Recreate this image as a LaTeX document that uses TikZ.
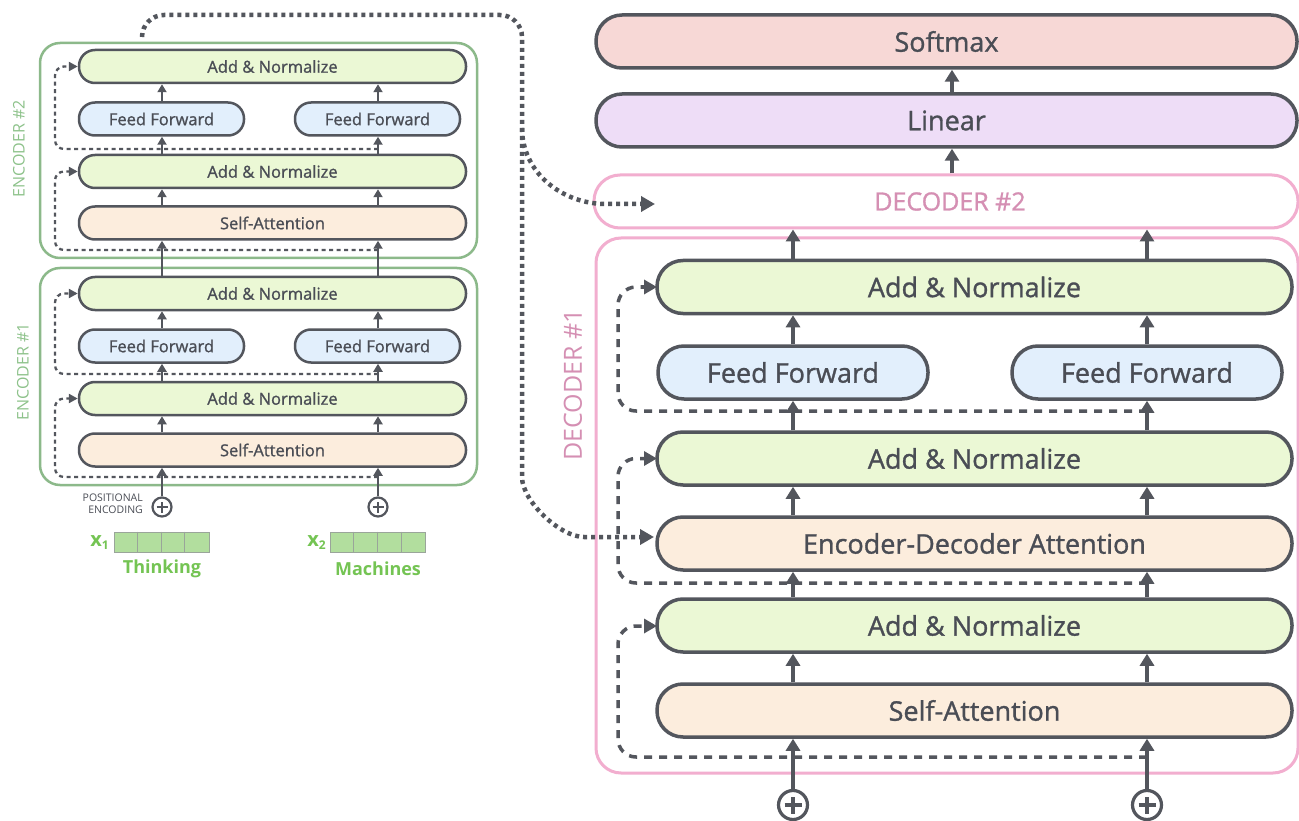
\documentclass[tikz,border=0pt]{standalone}
\usepackage{fontspec}
\setmainfont{Open Sans}
\newfontfamily\sbf{Open Sans}[FakeBold=1.1]
\usetikzlibrary{arrows.meta,calc}
\definecolor{dk}{HTML}{53565D}
\definecolor{txt}{HTML}{4A4D55}
\definecolor{anfill}{HTML}{EBF8D5}
\definecolor{fffill}{HTML}{E2EFFC}
\definecolor{safill}{HTML}{FCEDDD}
\definecolor{smfill}{HTML}{F7D8D6}
\definecolor{linfill}{HTML}{EEDDF7}
\definecolor{encgreen}{HTML}{8CB98A}
\definecolor{enclab}{HTML}{8DC28A}
\definecolor{decpink}{HTML}{F2AECF}
\definecolor{declab}{HTML}{D58FB3}
\definecolor{embfill}{HTML}{B2DE9E}
\definecolor{embline}{HTML}{9AA59A}
\definecolor{wordgreen}{HTML}{74C453}
\begin{document}
\begin{tikzpicture}[x=1pt,y=-1pt,
  ebox/.style={draw=dk, line width=2.5pt, rounded corners=16pt, minimum height=33pt, inner sep=0pt, text=txt, font=\sbf\fontsize{16.5}{18}\selectfont},
  dbox/.style={draw=dk, line width=3.5pt, rounded corners=26pt, minimum height=53pt, inner sep=0pt, text=txt, font=\sbf\fontsize{27}{30}\selectfont},
  encframe/.style={draw=encgreen, line width=2.5pt, rounded corners=20pt, inner sep=0pt},
  decframe/.style={draw=decpink, line width=3pt, rounded corners=25pt, inner sep=0pt},
  earrow/.style={draw=dk, line width=2pt, -{Triangle[length=8pt,width=9pt]}},
  darrow/.style={draw=dk, line width=3.5pt, -{Triangle[length=12pt,width=14pt]}},
  eres/.style={draw=dk, line width=2.3pt, dash pattern=on 4pt off 3.5pt, rounded corners=9pt, -{Triangle[length=9pt,width=9pt]}},
  dres/.style={draw=dk, line width=3.5pt, dash pattern=on 8pt off 7pt, rounded corners=18pt, -{Triangle[length=13pt,width=14pt]}},
  dotline/.style={draw=dk, line width=4.5pt, dash pattern=on 4pt off 4pt, -{Triangle[length=14pt,width=15pt]}},
  eplus/.style={circle, draw=dk, line width=2.2pt, minimum size=19pt, inner sep=0pt, fill=white,
    path picture={\draw[dk, line width=2.2pt] ([xshift=-5.5pt]path picture bounding box.center) -- ([xshift=5.5pt]path picture bounding box.center) ([yshift=-5.5pt]path picture bounding box.center) -- ([yshift=5.5pt]path picture bounding box.center);}},
  dplus/.style={circle, draw=dk, line width=3.2pt, minimum size=29pt, inner sep=0pt, fill=white,
    path picture={\draw[dk, line width=3.2pt] ([xshift=-8.5pt]path picture bounding box.center) -- ([xshift=8.5pt]path picture bounding box.center) ([yshift=-8.5pt]path picture bounding box.center) -- ([yshift=8.5pt]path picture bounding box.center);}},
  emb/.style={draw=embline, fill=embfill, line width=1pt, minimum width=95pt, minimum height=20pt, inner sep=0pt},
  word/.style={text=wordgreen, font=\fontsize{18}{20}\selectfont\bfseries, inner sep=0pt}
]
\useasboundingbox (0,0) rectangle (1299,821);
\fill[white] (0,0) rectangle (1299,821);

% column coordinates
\coordinate (cl) at (162,0);
\coordinate (cr) at (378,0);
\coordinate (ex) at (55,0);
\coordinate (dl) at (793,0);
\coordinate (dr) at (1147,0);
\coordinate (dx) at (618,0);
\coordinate (lc) at (952,0);

% ---------------- Encoder frames ----------------
\node[encframe, minimum width=437pt, minimum height=215pt] (e2box) at (258.5,150.5) {};
\node[encframe, minimum width=437pt, minimum height=217pt] (e1box) at (258.5,376.5) {};
\node[rotate=90, text=enclab, font=\fontsize{16}{18}\selectfont, inner sep=0pt] (e2lab) at (19,149) {ENCODER \#2};
\node[rotate=90, text=enclab, font=\fontsize{16}{18}\selectfont, inner sep=0pt] (e1lab) at (23,372) {ENCODER \#1};

% residual coordinates (encoder)
\coordinate (er1) at (378,477);
\coordinate (er2) at (378,374);
\coordinate (er3) at (378,250);
\coordinate (er4) at (378,149);

% Encoder #2 boxes
\node[ebox, fill=anfill, minimum width=387pt] (e2an2) at (272.5,66.5) {Add \& Normalize};
\node[ebox, fill=fffill, minimum width=165pt] (e2ffl) at (161.5,119) {Feed Forward};
\node[ebox, fill=fffill, minimum width=165pt] (e2ffr) at (377.5,119) {Feed Forward};
\node[ebox, fill=anfill, minimum width=387pt] (e2an1) at (272.5,171.5) {Add \& Normalize};
\node[ebox, fill=safill, minimum width=387pt] (e2sa) at (272.5,223) {Self-Attention};
% Encoder #1 boxes
\node[ebox, fill=anfill, minimum width=387pt] (e1an2) at (272.5,293.5) {Add \& Normalize};
\node[ebox, fill=fffill, minimum width=165pt] (e1ffl) at (161.5,346) {Feed Forward};
\node[ebox, fill=fffill, minimum width=165pt] (e1ffr) at (377.5,346) {Feed Forward};
\node[ebox, fill=anfill, minimum width=387pt] (e1an1) at (272.5,398.5) {Add \& Normalize};
\node[ebox, fill=safill, minimum width=387pt] (e1sa) at (272.5,450) {Self-Attention};

% encoder residuals
\draw[eres] (er1) -- (er1 -| ex) -- (ex |- e1an1.west) -- (e1an1.west);
\draw[eres] (er2) -- (er2 -| ex) -- (ex |- e1an2.west) -- (e1an2.west);
\draw[eres] (er3) -- (er3 -| ex) -- (ex |- e2an1.west) -- (e2an1.west);
\draw[eres] (er4) -- (er4 -| ex) -- (ex |- e2an2.west) -- (e2an2.west);

% positional encoding and inputs
\node[eplus] (pe1) at (162,507) {};
\node[eplus] (pe2) at (378,507) {};
\node[font=\fontsize{10.5}{12}\selectfont, text=txt, align=right, anchor=east, inner sep=0pt] (posenc) at (143,504) {POSITIONAL\\ENCODING};

\node[emb] (emb1) at (161.5,542) {};
\node[emb] (emb2) at (378,542) {};
\foreach \i in {1,2,3} {
  \draw[embline, line width=1pt] ($(emb1.north west)+(23.75*\i,0)$) -- ($(emb1.south west)+(23.75*\i,0)$);
  \draw[embline, line width=1pt] ($(emb2.north west)+(23.75*\i,0)$) -- ($(emb2.south west)+(23.75*\i,0)$);
}
\node[anchor=east, text=wordgreen, inner sep=0pt] (x1lab) at (109,543) {\fontsize{20}{20}\selectfont\bfseries x\raisebox{-3pt}{\fontsize{12}{12}\selectfont 1}};
\node[anchor=east, text=wordgreen, inner sep=0pt] (x2lab) at (326,543) {\fontsize{20}{20}\selectfont\bfseries x\raisebox{-3pt}{\fontsize{12}{12}\selectfont 2}};
\node[word] (w1) at (162,569) {Thinking};
\node[word] (w2) at (378,569) {Machines};

% encoder arrows
\foreach \c in {cl,cr} {
  \draw[earrow] (e1sa.north -| \c) -- (e1an1.south -| \c);
  \draw[earrow] (e1an2.north -| \c) -- (e2sa.south -| \c);
  \draw[earrow] (e2sa.north -| \c) -- (e2an1.south -| \c);
}
\draw[earrow] (pe1.north) -- (pe1 |- e1sa.south);
\draw[earrow] (pe2.north) -- (pe2 |- e1sa.south);
\draw[earrow] (e1an1.north -| cl) -- (e1ffl.south -| cl);
\draw[earrow] (e1an1.north -| cr) -- (e1ffr.south -| cr);
\draw[earrow] (e1ffl.north -| cl) -- (e1an2.south -| cl);
\draw[earrow] (e1ffr.north -| cr) -- (e1an2.south -| cr);
\draw[earrow] (e2an1.north -| cl) -- (e2ffl.south -| cl);
\draw[earrow] (e2an1.north -| cr) -- (e2ffr.south -| cr);
\draw[earrow] (e2ffl.north -| cl) -- (e2an2.south -| cl);
\draw[earrow] (e2ffr.north -| cr) -- (e2an2.south -| cr);

% ---------------- Decoder ----------------
\node[dbox, fill=smfill, minimum width=701pt] (softmax) at (946.5,41.5) {Softmax};
\node[dbox, fill=linfill, minimum width=701pt] (linear) at (946.5,120.5) {Linear};
\node[draw=decpink, line width=3pt, rounded corners=26pt, minimum width=704pt, minimum height=53pt, inner sep=0pt, text=declab, font=\sbf\fontsize{25}{28}\selectfont] (dec2) at (946,201.5) {\hspace*{8pt}DECODER \#2};
\node[decframe, minimum width=702pt, minimum height=535pt] (dec1) at (947,505.5) {};
\node[rotate=90, text=declab, font=\fontsize{25}{28}\selectfont, inner sep=0pt] (d1lab) at (573,385) {DECODER \#1};

\coordinate (dr1) at (1147,757);
\coordinate (dr2) at (1147,583);
\coordinate (dr3) at (1147,411);

\draw[dres] (dr1) -- (dr1 -| dx) -- (dx |- 0,626) -- (657,626);
\draw[dres] (dr2) -- (dr2 -| dx) -- (dx |- 0,458.5) -- (657,458.5);
\draw[dres] (dr3) -- (dr3 -| dx) -- (dx |- 0,287) -- (657,287);

\node[dbox, fill=anfill, minimum width=635pt] (dan3) at (974.5,287) {Add \& Normalize};
\node[dbox, fill=fffill, minimum width=270pt] (dffl) at (793,372.5) {Feed Forward};
\node[dbox, fill=fffill, minimum width=270pt] (dffr) at (1147,372.5) {Feed Forward};
\node[dbox, fill=anfill, minimum width=635pt] (dan2) at (974.5,458.5) {Add \& Normalize};
\node[dbox, fill=safill, minimum width=635pt] (deda) at (974.5,543.5) {Encoder-Decoder Attention};
\node[dbox, fill=anfill, minimum width=635pt] (dan1) at (974.5,625.5) {Add \& Normalize};
\node[dbox, fill=safill, minimum width=635pt] (dsa) at (974.5,710.5) {Self-Attention};

\node[dplus] (pd1) at (793,805) {};
\node[dplus] (pd2) at (1147,805) {};

% decoder arrows
\foreach \c in {dl,dr} {
  \draw[darrow] (dsa.north -| \c) -- (dan1.south -| \c);
  \draw[darrow] (dan1.north -| \c) -- (deda.south -| \c);
  \draw[darrow] (deda.north -| \c) -- (dan2.south -| \c);
  \draw[darrow] (dan3.north -| \c) -- (dec2.south -| \c);
}
\draw[darrow] (pd1.north) -- (pd1 |- dsa.south);
\draw[darrow] (pd2.north) -- (pd2 |- dsa.south);
\draw[darrow] (dan2.north -| dl) -- (dffl.south -| dl);
\draw[darrow] (dan2.north -| dr) -- (dffr.south -| dr);
\draw[darrow] (dffl.north -| dl) -- (dan3.south -| dl);
\draw[darrow] (dffr.north -| dr) -- (dan3.south -| dr);
\draw[darrow] (dec2.north -| lc) -- (linear.south -| lc);
\draw[darrow] (linear.north -| lc) -- (softmax.south -| lc);

% ---------------- Encoder output (dotted) ----------------
\coordinate (dotstart) at (142,37);
\coordinate (dotend2) at (655,204);
\coordinate (dotend1) at (654,537);
\draw[dotline, rounded corners=22pt] (dotstart) -- (142,15) -- (522,15) -- (522,455) to[out=-90,in=180] (606,537) -- (dotend1);
\draw[dotline] (522,128) to[out=-90,in=180] (606,204) -- (dotend2);
\end{tikzpicture}
\end{document}
